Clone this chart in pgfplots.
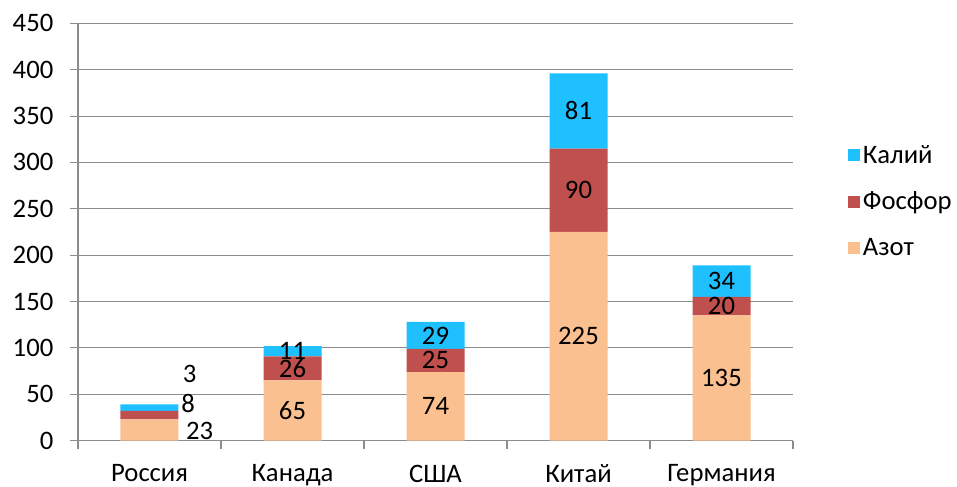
\documentclass[border=0pt]{standalone}
\usepackage{pgfplots}
\pgfplotsset{compat=1.18}
\usepackage{fontspec}
\setmainfont{Carlito}
\definecolor{kaliy}{HTML}{1FC0FF}
\definecolor{fosfor}{HTML}{C0504D}
\definecolor{azot}{HTML}{FAC090}
\definecolor{axgray}{HTML}{8C8C8C}

\begin{document}
\begin{tikzpicture}[font=\fontsize{20}{24}\selectfont]
\begin{axis}[
  name=ax,
  scale only axis,
  width=536.25pt, height=313pt,
  ybar stacked,
  bar width=43.5pt,
  xmin=-0.5, xmax=4.5,
  ymin=0, ymax=450,
  ytick={0,50,...,450},
  xtick={0,1,2,3,4},
  xticklabels={Россия, Канада, США, Китай, Германия},
  minor xtick={-0.5,0.5,1.5,2.5,3.5,4.5},
  major x tick style={draw=none},
  tick align=outside,
  xtick pos=bottom, ytick pos=left,
  major tick length=6pt, minor tick length=6pt,
  tick style={axgray, line width=0.8pt},
  axis x line*=bottom, axis y line*=left,
  axis line style={axgray, line width=0.8pt, -},
  ymajorgrids,
  grid style={axgray, line width=0.8pt},
  /pgf/number format/assume math mode=true,
  ticklabel style={font=\fontsize{20}{24}\selectfont},
  xticklabel style={yshift=-8.5pt},
  yticklabel style={xshift=-9pt},
  legend style={draw=none, at={(1.077,0.573)}, anchor=west,
    font=\fontsize{20}{24}\selectfont, row sep=16pt,
    inner sep=0pt, cells={anchor=west}},
  legend image code/.code={\fill[#1] (0pt,-4.5pt) rectangle (9pt,4.5pt);},
  reverse legend,
]
% Азот
\addplot[fill=azot, draw=none] coordinates {(0,23) (1,65) (2,74) (3,225) (4,135)};
\addlegendentry{Азот}
% Фосфор
\addplot[fill=fosfor, draw=none] coordinates {(0,9) (1,26) (2,25) (3,90) (4,20)};
\addlegendentry{Фосфор}
% Калий
\addplot[fill=kaliy, draw=none] coordinates {(0,7) (1,11) (2,29) (3,81) (4,34)};
\addlegendentry{Калий}

% точки подписей
\coordinate (r1) at (axis cs:0.35,11);
\coordinate (r2) at (axis cs:0.27,40.5);
\coordinate (r3) at (axis cs:0.28,72);
\coordinate (k1) at (axis cs:1,32.5);
\coordinate (k2) at (axis cs:1,78);
\coordinate (k3) at (axis cs:1,96.5);
\coordinate (u1) at (axis cs:2,37);
\coordinate (u2) at (axis cs:2,86.5);
\coordinate (u3) at (axis cs:2,113.5);
\coordinate (c1) at (axis cs:3,112.5);
\coordinate (c2) at (axis cs:3,270);
\coordinate (c3) at (axis cs:3,355.5);
\coordinate (g1) at (axis cs:4,67.5);
\coordinate (g2) at (axis cs:4,145);
\coordinate (g3) at (axis cs:4,172);
\end{axis}
\node at (r1) {23}; \node at (r2) {8}; \node at (r3) {3};
\node at (k1) {65}; \node at (k2) {26}; \node at (k3) {11};
\node at (u1) {74}; \node at (u2) {25}; \node at (u3) {29};
\node at (c1) {225}; \node at (c2) {90}; \node at (c3) {81};
\node at (g1) {135}; \node at (g2) {20}; \node at (g3) {34};
\pgfresetboundingbox
\path[use as bounding box] ([xshift=-58.5pt,yshift=-34.5pt]ax.south west) rectangle ([xshift=123pt,yshift=17.5pt]ax.north east);
\end{tikzpicture}
\end{document}
